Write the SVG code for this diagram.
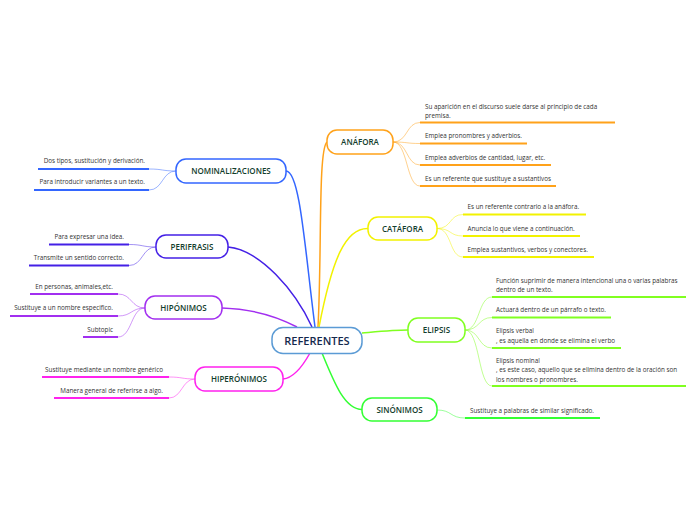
<svg xmlns="http://www.w3.org/2000/svg" width="696" height="520" viewBox="0 0 696 520">
<style>
.bg{fill:#ffffff}
.node{fill:#ffffff;stroke-width:1.5}
.lbl{font-family:"Open Sans","Noto Sans",sans-serif;font-size:8px;font-weight:600;fill:#123d2c;text-anchor:middle}
.main{font-family:"Open Sans","Noto Sans",sans-serif;font-size:11px;font-weight:600;fill:#14294d;text-anchor:middle}
.t{font-family:"Open Sans","Noto Sans",sans-serif;font-size:6.3px;fill:#333333}
.r{text-anchor:end}
.c{fill:none;stroke-width:1.5}
.b{fill:none;stroke-width:0.9;opacity:0.55}
.u{fill:none;stroke-width:2}
</style>
<rect class="bg" x="0" y="0" width="696" height="520"/>
<g id="connectors">
<path class="c" stroke="#ffa21a" d="M318 327 C322 250,318 150,327 142"/>
<path class="c" stroke="#3366ff" d="M286 171 C300 171,305 250,315 327"/>
<path class="c" stroke="#f2f200" d="M319 327 C332 260,345 228,368 228.5"/>
<path class="c" stroke="#4420e6" d="M228 247 C260 250,295 290,312 327"/>
<path class="c" stroke="#a22ff0" d="M222 308 C255 309,280 318,297 327"/>
<path class="c" stroke="#ff22ee" d="M283 379 C295 378,305 362,310 353"/>
<path class="c" stroke="#80ff20" d="M362 333 C385 331,395 330,408 330"/>
<path class="c" stroke="#33ff33" d="M322 353 C335 385,345 409,362 409.5"/>
<!-- anafora branches -->
<g stroke="#ffa21a">
<path class="b" d="M393 142 C408 142,406 122.5,420 122.5"/>
<path class="b" d="M393 142 C408 142,406 143.5,420 143.5"/>
<path class="b" d="M393 142 C408 142,406 165,420 165"/>
<path class="b" d="M393 142 C408 142,406 186,420 186"/>
<path class="u" d="M420 122.5 H615 M420 143.5 H527 M420 165 H551 M420 186 H556"/>
</g>
<g stroke="#f2f200">
<path class="b" d="M437 228.5 C452 228.5,449 214.5,463 214.5"/>
<path class="b" d="M437 228.5 C452 228.5,449 236,463 236"/>
<path class="b" d="M437 228.5 C452 228.5,449 257,463 257"/>
<path class="u" d="M463 214.5 H586 M463 236 H580 M463 257 H594"/>
</g>
<g stroke="#80ff20">
<path class="b" d="M465 330 C480 330,478 297,492 297"/>
<path class="b" d="M465 330 C480 330,478 317.5,492 317.5"/>
<path class="b" d="M465 330 C480 330,478 348,492 348"/>
<path class="b" d="M465 330 C480 330,478 386,492 386"/>
<path class="u" d="M492 297 H686 M492 317.5 H611 M492 348 H621 M492 386 H686"/>
</g>
<g stroke="#33ff33">
<path class="b" d="M437 410 C452 410,450 418,465 418"/>
<path class="u" d="M465 418 H600"/>
</g>
<g stroke="#3366ff">
<path class="b" d="M176 171 C162 171,163 169,149 169"/>
<path class="b" d="M176 171 C162 171,163 190,149 190"/>
<path class="u" d="M38 169 H149 M34 190 H149"/>
</g>
<g stroke="#4420e6">
<path class="b" d="M156 247 C142 247,143 244.5,129 244.5"/>
<path class="b" d="M156 247 C142 247,143 265.5,129 265.5"/>
<path class="u" d="M49 244.5 H129 M29 265.5 H129"/>
</g>
<g stroke="#a22ff0">
<path class="b" d="M145 308 C131 308,132 294,118 294"/>
<path class="b" d="M145 308 C131 308,132 316,118 316"/>
<path class="b" d="M145 308 C131 308,132 337,118 337"/>
<path class="u" d="M30 294 H118 M10 316 H118 M83 337 H118"/>
</g>
<g stroke="#ff22ee">
<path class="b" d="M195 379 C182 379,182 377,169 377"/>
<path class="b" d="M195 379 C182 379,182 398,169 398"/>
<path class="u" d="M42 377 H169 M54 398 H169"/>
</g>
</g>
<g id="referentes">
<rect class="node" x="272" y="327.5" width="90" height="26" rx="11" stroke="#5b9bd5"/>
<text class="main" x="317" y="344.5">REFERENTES</text>
</g>
<g id="anafora">
<rect class="node" x="327" y="130" width="66" height="24" rx="10" stroke="#ffa21a"/>
<text class="lbl" x="360" y="145">ANÁFORA</text>
<text class="t" x="425" y="108.5">Su aparición en el discurso suele darse al principio de cada</text>
<text class="t" x="425" y="117.5">premisa.</text>
<text class="t" x="425" y="138">Emplea pronombres y adverbios.</text>
<text class="t" x="425" y="159.5">Emplea adverbios de cantidad, lugar, etc.</text>
<text class="t" x="425" y="180.5">Es un referente que sustituye a sustantivos</text>
</g>
<g id="catafora">
<rect class="node" x="368" y="217" width="69" height="23" rx="10" stroke="#f2f200"/>
<text class="lbl" x="402.5" y="231.5">CATÁFORA</text>
<text class="t" x="467.5" y="209">Es un referente contrario a la anáfora.</text>
<text class="t" x="467.5" y="230.5">Anuncia lo que viene a continuación.</text>
<text class="t" x="467.5" y="251.5">Emplea sustantivos, verbos y conectores.</text>
</g>
<g id="elipsis">
<rect class="node" x="408" y="318" width="57" height="24" rx="10" stroke="#80ff20"/>
<text class="lbl" x="436.5" y="333">ELIPSIS</text>
<text class="t" x="496" y="282.5">Función suprimir de manera intencional una o varias palabras</text>
<text class="t" x="496" y="291.5">dentro de un texto.</text>
<text class="t" x="496" y="311.5">Actuará dentro de un párrafo o texto.</text>
<text class="t" x="496" y="333">Elipsis verbal</text>
<text class="t" x="496" y="342.5">, es aquella en donde se elimina el verbo</text>
<text class="t" x="496" y="362.5">Elipsis nominal</text>
<text class="t" x="496" y="372">, es este caso, aquello que se elimina dentro de la oración son</text>
<text class="t" x="496" y="381.5">los nombres o pronombres.</text>
</g>
<g id="sinonimos">
<rect class="node" x="362" y="398" width="75" height="23" rx="10" stroke="#33ff33"/>
<text class="lbl" x="399.5" y="412.5">SINÓNIMOS</text>
<text class="t" x="470" y="413">Sustituye a palabras de similar significado.</text>
</g>
<g id="nominalizaciones">
<rect class="node" x="176" y="159" width="110" height="24" rx="10" stroke="#3366ff"/>
<text class="lbl" x="231" y="174">NOMINALIZACIONES</text>
<text class="t r" x="145" y="163">Dos tipos, sustitución y derivación.</text>
<text class="t r" x="145" y="184">Para introducir variantes a un texto.</text>
</g>
<g id="perifrasis">
<rect class="node" x="156" y="235" width="72" height="23" rx="10" stroke="#4420e6"/>
<text class="lbl" x="192" y="249.5">PERIFRASIS</text>
<text class="t r" x="124" y="239">Para expresar una idea.</text>
<text class="t r" x="124" y="260">Transmite un sentido correcto.</text>
</g>
<g id="hiponimos">
<rect class="node" x="145" y="296" width="77" height="23" rx="10" stroke="#a22ff0"/>
<text class="lbl" x="183.5" y="310.5">HIPÓNIMOS</text>
<text class="t r" x="113" y="288.5">En personas, animales,etc.</text>
<text class="t r" x="113" y="310">Sustituye a un nombre especifico.</text>
<text class="t r" x="113" y="331.5">Subtopic</text>
</g>
<g id="hiperonimos">
<rect class="node" x="195" y="367" width="88" height="24" rx="10" stroke="#ff22ee"/>
<text class="lbl" x="239" y="382">HIPERÓNIMOS</text>
<text class="t r" x="163" y="371.5">Sustituye mediante un nombre genérico</text>
<text class="t r" x="163" y="392.5">Manera general de referirse a algo.</text>
</g>
</svg>
